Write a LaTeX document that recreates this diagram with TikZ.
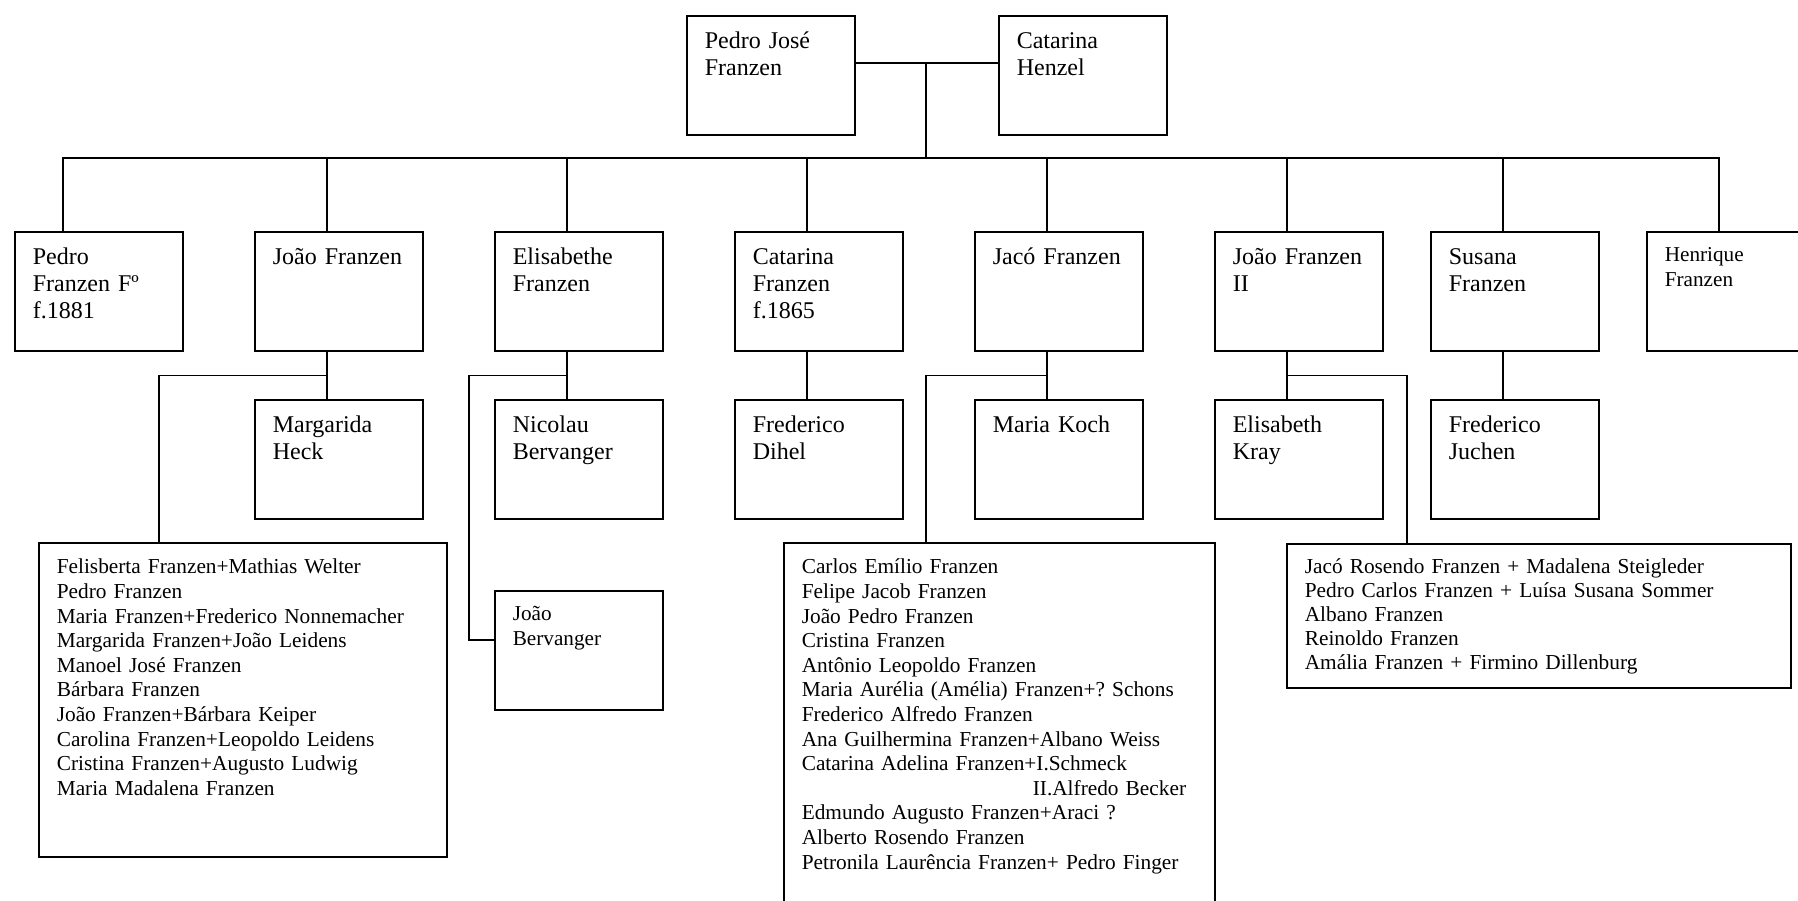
\documentclass[tikz,border=0pt]{standalone}
\usepackage{fontspec}
\setmainfont{Liberation Serif}
\frenchspacing
\begin{document}
\begin{tikzpicture}
            [x=0.5pt, y=-0.5pt, line width=0.8pt,
             person/.style={draw, anchor=north west, inner xsep=9pt, inner ysep=0pt, text width=66pt,
               align=left, font=\fontsize{12}{13.5}\selectfont, text height=16.5pt, text depth=43pt},
             kids/.style={draw, anchor=north west, inner xsep=9pt, inner ysep=0pt, align=left,
               font=\fontsize{10.66}{12.3}\selectfont, text height=15.5pt}]
            \clip (0, 0) rectangle (1798, 900);
            \node[person] (pj) at (686, 15) {Pedro José\\Franzen};
            \node[person] (ch) at (998, 15) {Catarina\\Henzel};

            \node[person] (pedro) at (14, 231) {Pedro\\Franzen Fº\\f.1881};
            \node[person] (joao) at (254, 231) {João Franzen};
            \node[person] (elis) at (494, 231) {Elisabethe\\Franzen};
            \node[person] (cat) at (734, 231) {Catarina\\Franzen\\f.1865};
            \node[person] (jaco) at (974, 231) {Jacó Franzen};
            \node[person] (joao2) at (1214, 231) {João Franzen\\II};
            \node[person] (susana) at (1430, 231) {Susana\\Franzen};
            \node[person, font=\fontsize{10.6}{12.5}\selectfont, text height=15pt, text depth=44.5pt]
                (henrique) at (1646, 231) {Henrique\\Franzen};

            \node[person] (heck) at (254, 399) {Margarida\\Heck};
            \node[person] (nicolau) at (494, 399) {Nicolau\\Bervanger};
            \node[person] (dihel) at (734, 399) {Frederico\\Dihel};
            \node[person] (koch) at (974, 399) {Maria Koch};
            \node[person] (kray) at (1214, 399) {Elisabeth\\Kray};
            \node[person] (juchen) at (1430, 399) {Frederico\\Juchen};
            \node[person, font=\fontsize{10.6}{12.5}\selectfont, text height=15pt, text depth=44.5pt]
                (bervj) at (494, 590) {João\\Bervanger};

            \node[kids, text width=186pt, text depth=141.5pt] (jkids) at (38, 542)
                {Felisberta Franzen+Mathias Welter\\Pedro Franzen\\Maria Franzen+Frederico Nonnemacher\\
                 Margarida Franzen+João Leidens\\Manoel José Franzen\\Bárbara Franzen\\
                 João Franzen+Bárbara Keiper\\Carolina Franzen+Leopoldo Leidens\\
                 Cristina Franzen+Augusto Ludwig\\Maria Madalena Franzen};
            \node[kids, text width=197.5pt, text depth=230pt] (jacokids) at (783, 542)
                {Carlos Emílio Franzen\\Felipe Jacob Franzen\\João Pedro Franzen\\Cristina Franzen\\
                 Antônio Leopoldo Franzen\\Maria Aurélia (Amélia) Franzen+? Schons\\
                 Frederico Alfredo Franzen\\Ana Guilhermina Franzen+Albano Weiss\\
                 Catarina Adelina Franzen+I.Schmeck\\\hspace*{115.5pt}\mbox{II.Alfredo Becker}\\
                 Edmundo Augusto Franzen+Araci ?\\Alberto Rosendo Franzen\\
                 Petronila Laurência Franzen+ Pedro Finger};
            \node[kids, font=\fontsize{10.66}{12}\selectfont, text width=234pt, text height=15pt, text depth=57pt]
                (j2kids) at (1286, 543)
                {Jacó Rosendo Franzen + Madalena Steigleder\\Pedro Carlos Franzen + Luísa Susana Sommer\\
                 Albano Franzen\\Reinoldo Franzen\\Amália Franzen + Firmino Dillenburg};

            \coordinate (wed) at (926, 63);
            \coordinate (bar) at (926, 158);
            \draw (pj.east |- wed) -- (ch.west |- wed);
            \draw (wed) -- (bar);
            \draw ([xshift=-18pt]pedro.north) |- (bar) -| ([xshift=-6pt]henrique.north);
            \foreach \n in {joao, elis, cat, jaco, joao2, susana}
                \draw ([xshift=-6pt]\n.north) -- ([xshift=-6pt]\n.north |- bar);
            \foreach \a/\b in {joao/heck, elis/nicolau, cat/dihel, jaco/koch, joao2/kray, susana/juchen}
                \draw ([xshift=-6pt]\a.south) -- ([xshift=-6pt]\b.north);
            \draw ([xshift=-6pt, yshift=-12pt]joao.south) -| ([xshift=-42pt]jkids.north);
            \draw ([xshift=-6pt, yshift=-12pt]elis.south) -| ([xshift=-12.5pt, yshift=5.25pt]bervj.west)
                -- ([yshift=5.25pt]bervj.west);
            \draw ([xshift=-6pt, yshift=-12pt]jaco.south) -| ([xshift=-36.75pt]jacokids.north);
            \draw ([xshift=-6pt, yshift=-12pt]joao2.south) -| ([xshift=-66pt]j2kids.north);
        \end{tikzpicture}
\end{document}
